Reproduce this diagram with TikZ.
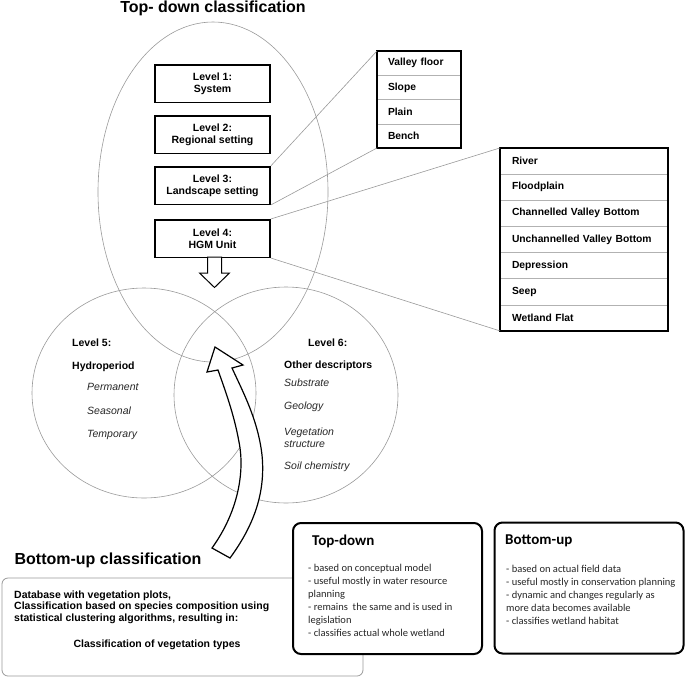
\documentclass[tikz,border=0pt]{standalone}
\usepackage{fontspec}
\setmainfont{Liberation Sans}
\newfontfamily\calibri{Carlito}
\usetikzlibrary{positioning}

\begin{document}
\begin{tikzpicture}[
    x=1pt, y=-1pt,
    node distance=12pt,
    ring/.style={draw=gray!80, line width=0.6pt},
    link/.style={draw=gray!80, line width=0.6pt},
    level/.style={draw, line width=1.5pt, minimum width=115pt, minimum height=37.5pt, align=center, font=\fontsize{10.5}{12}\selectfont\bfseries},
    vrow/.style={draw=gray!60, outer sep=0pt, text width=62pt, inner xsep=11pt, minimum height=24.25pt, align=left, font=\fontsize{10.3}{12}\selectfont\bfseries},
    hrow/.style={draw=gray!60, outer sep=0pt, text width=144pt, inner xsep=12pt, minimum height=26.14pt, align=left, font=\fontsize{10.3}{12}\selectfont\bfseries},
    frame/.style={draw, line width=1.2pt},
    title/.style={font=\fontsize{16}{18}\selectfont\bfseries},
    label/.style={anchor=west, inner sep=0pt, font=\fontsize{10.5}{12}\selectfont\bfseries},
    item/.style={anchor=west, inner sep=0pt, align=left, font=\fontsize{10.5}{11.5}\selectfont\itshape, text=black!85},
    note/.style={draw, fill=white, line width=2pt, rounded corners=8pt, minimum width=189pt, minimum height=131pt},
    head/.style={anchor=west, inner sep=0pt, font=\calibri\fontsize{15}{18}\selectfont\bfseries},
    body/.style={anchor=north west, inner sep=0pt, align=left, font=\calibri\fontsize{10.5}{13}\selectfont, text=black!85},
    bigarrow/.style={draw, line width=1.2pt, fill=white, line join=miter}
]
    \useasboundingbox (0,0) rectangle (685,678);

    % Rings
    \draw[ring] (213,192) ellipse [x radius=115, y radius=170];
    \draw[ring] (144,393) ellipse [x radius=112, y radius=105];
    \draw[ring] (286,395) ellipse [x radius=112, y radius=108];

    % Titles
    \node[title] (toptitle) at (213,8) {Top- down classification};
    \node[title] (bottitle) at (108,560) {Bottom-up classification};

    % Levels
    \node[level] (l1) at (212.5,83.5) {Level 1:\\System};
    \node[level, below=of l1] (l2) {Level 2:\\Regional setting};
    \node[level, below=of l2] (l3) {Level 3:\\Landscape setting};
    \node[level, below=14pt of l3] (l4) {Level 4:\\HGM Unit};

    % Landscape settings
    \node[vrow] (v1) at (419,63.1) {Valley floor};
    \node[vrow, below=0pt of v1] (v2) {Slope};
    \node[vrow, below=0pt of v2] (v3) {Plain};
    \node[vrow, below=0pt of v3] (v4) {Bench};
    \draw[frame] (v1.north west) rectangle (v4.south east);

    % HGM units
    \node[hrow] (h1) at (584,161) {River};
    \node[hrow, below=0pt of h1] (h2) {Floodplain};
    \node[hrow, below=0pt of h2] (h3) {Channelled Valley Bottom};
    \node[hrow, below=0pt of h3] (h4) {Unchannelled Valley Bottom};
    \node[hrow, below=0pt of h4] (h5) {Depression};
    \node[hrow, below=0pt of h5] (h6) {Seep};
    \node[hrow, below=0pt of h6] (h7) {Wetland Flat};
    \draw[frame] (h1.north west) rectangle (h7.south east);

    % Links
    \draw[link] (l3.north east) -- (v1.north west);
    \draw[link] (l3.south east) -- (v4.south west);
    \draw[link] (l4.north east) -- (h1.north west);
    \draw[link] (l4.south east) -- (h7.south west);

    % Down arrow
    \draw[line width=1pt, fill=white, line join=miter] (207.5,257) -- (221.5,257) -- (221.5,273) -- (229.5,273)
        -- (214.5,287.5) -- (199.5,273) -- (207.5,273) -- cycle;

    % Level 5
    \node[label] (l5) at (72,343) {Level 5:};
    \node[label] (hydro) at (72,367) {Hydroperiod};
    \foreach \t [count=\i] in {Permanent, Seasonal, Temporary}
        \node[item] (p\i) at (87,363+24*\i) {\t};

    % Level 6
    \node[label] (l6) at (308,343) {Level 6:};
    \node[label] (other) at (284,366) {Other descriptors};
    \node[item] (d1) at (284,383) {Substrate};
    \node[item] (d2) at (284,407) {Geology};
    \node[item] (d3) at (284,437.5) {Vegetation\\structure};
    \node[item] (d4) at (284,467) {Soil chemistry};

    % Bottom-up arrow
    \draw[bigarrow] (212,548) .. controls (238,512) and (245,472) .. (239,442)
        .. controls (234,414) and (225,390) .. (218,370)
        -- (207,372) -- (215,347) -- (243,365) -- (232,368)
        .. controls (243,392) and (258,420) .. (262,455)
        .. controls (266,495) and (252,528) .. (230,558) -- cycle;

    % Vegetation box
    \node[draw=gray!80, line width=0.8pt, rounded corners=6pt, minimum width=361pt, minimum height=98pt] (vegbox) at (182.5,627) {};
    \node[label, align=left, font=\fontsize{10.5}{11.5}\selectfont\bfseries] (vegtext) at (14,607)
        {Database with vegetation plots,\\Classification based on species composition using\\statistical clustering algorithms, resulting in:};
    \node[font=\fontsize{10.5}{12}\selectfont\bfseries] (vegtypes) at (157,645) {Classification of vegetation types};

    % Comparison boxes
    \node[note] (tdbox) at (387.5,588.5) {};
    \node[head] (tdhead) at (312,541) {Top-down};
    \node[body] (tdbody) at (308,564) {- based on conceptual model\\- useful mostly in water resource\\planning\\- remains~ the same and is used in\\legislation\\- classifies actual whole wetland};

    \node[note] (bubox) at (589,588) {};
    \node[head] (buhead) at (505,541) {Bottom-up};
    \node[body] (bubody) at (506,565) {- based on actual field data\\- useful mostly in conservation planning\\- dynamic and changes regularly as\\more data becomes available\\- classifies wetland habitat};
\end{tikzpicture}
\end{document}
